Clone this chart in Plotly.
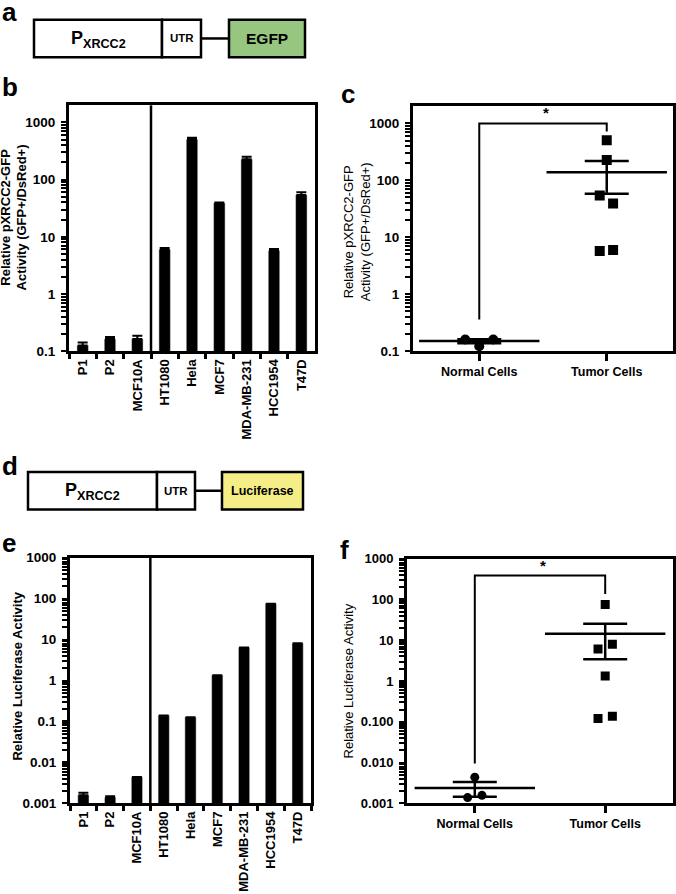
import plotly.graph_objects as go

# panel b / e : per cell line
cell_lines = ["P1", "P2", "MCF10A", "HT1080", "Hela", "MCF7", "MDA-MB-231", "HCC1954", "T47D"]
gfp_activity = [0.125, 0.163, 0.163, 6.0, 505, 39, 227, 5.75, 54]
gfp_sem = [0.016, 0.013, 0.023, 0.4, 33, 1.0, 25, 0.35, 6]
luc_activity = [0.00158, 0.00139, 0.0044, 0.139, 0.127, 1.34, 6.4, 75, 8.1]
luc_sem = [0.00023, 0.0001, 0, 0, 0, 0, 0, 0, 0]

# panel c / f : grouped
groups = ["Normal Cells", "Tumor Cells"]
c_normal = [0.16, 0.122, 0.16]
c_tumor = [505, 227, 54, 39, 5.75, 6.0]
c_mean = [0.15, 138]
c_sem = [0.012, 80]
f_normal = [0.0044, 0.00139, 0.00158]
f_tumor = [75, 6.1, 7.9, 1.32, 0.12, 0.137]
f_mean = [0.0024, 14.4]
f_sem = [0.00095, 11]

W, H = 676, 894
FONT = "Arial, Liberation Sans, sans-serif"

def X(px):
    return px / W

def Y(py):
    return 1 - py / H

fig = go.Figure()

# bars
for vals, sem, ax in [(gfp_activity, gfp_sem, ""), (luc_activity, luc_sem, "3")]:
    fig.add_trace(go.Bar(
        x=cell_lines, y=vals, width=0.42, marker_color="black",
        error_y=dict(type="data", symmetric=False, array=sem, arrayminus=[0] * len(sem),
                     color="black", thickness=2, width=5),
        xaxis="x" + ax, yaxis="y" + ax, showlegend=False))

# dot plots
def dots(normal, tumor, mean, sem, ax, msize, nj, tj):
    fig.add_trace(go.Scatter(
        x=[0 + j for j in nj], y=normal, mode="markers",
        marker=dict(symbol="circle", size=msize, color="black"),
        xaxis="x" + ax, yaxis="y" + ax, showlegend=False))
    fig.add_trace(go.Scatter(
        x=[1 + j for j in tj], y=tumor, mode="markers",
        marker=dict(symbol="square", size=msize, color="black"),
        xaxis="x" + ax, yaxis="y" + ax, showlegend=False))
    fig.add_trace(go.Scatter(
        x=[0, 1], y=mean, mode="markers",
        marker=dict(symbol="line-ew", size=86, color="black",
                    line=dict(width=2.5, color="black")),
        error_y=dict(type="data", array=sem, color="black", thickness=2.5, width=22),
        xaxis="x" + ax, yaxis="y" + ax, showlegend=False))

dots(c_normal, c_tumor, c_mean, c_sem, "2", 10,
     [-0.11, 0, 0.11], [0, 0, -0.055, 0.05, -0.055, 0.05])
dots(f_normal, f_tumor, f_mean, f_sem, "4", 9,
     [0, -0.055, 0.055], [0, -0.055, 0.055, 0, -0.055, 0.055])

# significance brackets
for ys, ax in [([0.36, 1000, 1000, 717], "2"), ([0.0095, 383, 383, 136], "4")]:
    fig.add_trace(go.Scatter(x=[0, 0, 1, 1], y=ys, mode="lines",
                             line=dict(color="black", width=2),
                             xaxis="x" + ax, yaxis="y" + ax, showlegend=False))

tf = dict(family=FONT, size=12.5, color="black", weight="bold")
common_line = dict(showline=True, linewidth=3, linecolor="black", mirror=True,
                   showgrid=False, zeroline=False)

def yax(domain, anchor, rng, vals, texts, size=13.5):
    # decade labels plus unlabeled in-between ticks
    tv, tt = [], []
    for d, t in zip(vals, texts):
        tv.append(d)
        tt.append(t)
        if d != vals[-1]:
            tv += [d * k for k in range(2, 10)]
            tt += [""] * 8
    return dict(domain=domain, anchor=anchor, type="log", range=rng,
                tickmode="array", tickvals=tv, ticktext=tt,
                ticks="outside", ticklen=5, tickwidth=2, tickcolor="black",
                ticklabelstandoff=3,
                tickfont=dict(tf, size=size), **common_line)

bar_x = dict(type="category", range=[-0.5, 8.5], tickson="boundaries",
             ticks="outside", ticklen=5, tickwidth=2.5, tickcolor="black",
             tickangle=-90, tickfont=dict(tf, size=13), **common_line)
dot_x = dict(type="linear", range=[-0.52, 1.52], tickmode="array", tickvals=[0, 1],
             ticktext=groups, ticks="outside", ticklen=7, tickwidth=2.5,
             tickcolor="black", tickfont=dict(tf, size=12.5), **common_line)

v5 = [0.1, 1, 10, 100, 1000]
t5 = ["0.1", "1", "10", "100", "1000"]
v7 = [0.001, 0.01, 0.1, 1, 10, 100, 1000]

fig.update_layout(
    width=W, height=H, margin=dict(l=0, r=0, t=0, b=0),
    paper_bgcolor="white", plot_bgcolor="white", bargap=0.5,
    xaxis=dict(bar_x, domain=[X(69), X(315)], anchor="y"),
    yaxis=yax([Y(350), Y(100)], "x", [-1, 3.3], v5, t5),
    xaxis2=dict(dot_x, domain=[X(413), X(673)], anchor="y2"),
    yaxis2=yax([Y(350), Y(101)], "x2", [-1, 3.3], v5, t5),
    xaxis3=dict(bar_x, domain=[X(70), X(311)], anchor="y3"),
    yaxis3=yax([Y(810), Y(560)], "x3", [-3, 3], v7,
               ["0.001", "0.01", "0.1", "1", "10", "100", "1000"]),
    xaxis4=dict(dot_x, domain=[X(407), X(673)], anchor="y4"),
    yaxis4=yax([Y(810), Y(561)], "x4", [-3, 3], v7,
               ["0.001", "0.010", "0.100", "1", "10", "100", "1000"], 13),
)

shapes = []
# divider between normal and tumor lines
for ax in ["", "3"]:
    shapes.append(dict(type="line", xref="x" + ax, yref="y" + ax + " domain",
                       x0=2.5, x1=2.5, y0=0, y1=1, line=dict(color="black", width=2.5)))

annotations = []

def construct(top, bot, x0, x1, x2, x3, x4, fill, label, lsize):
    mid = (top + bot) / 2
    box = dict(type="rect", xref="paper", yref="paper", line=dict(color="black", width=2.5))
    shapes.append(dict(box, x0=X(x0), x1=X(x1), y0=Y(bot), y1=Y(top), fillcolor="white"))
    shapes.append(dict(box, x0=X(x1), x1=X(x2), y0=Y(bot), y1=Y(top), fillcolor="white"))
    shapes.append(dict(type="line", xref="paper", yref="paper", x0=X(x2), x1=X(x3),
                       y0=Y(mid), y1=Y(mid), line=dict(color="black", width=2.5)))
    shapes.append(dict(box, x0=X(x3), x1=X(x4), y0=Y(bot), y1=Y(top), fillcolor=fill))
    txt = dict(xref="paper", yref="paper", showarrow=False, xanchor="center", yanchor="middle")
    annotations.append(dict(txt, x=X((x0 + x1) / 2), y=Y(mid + 1), text="P<sub>XRCC2</sub>",
                            font=dict(family=FONT, size=18, color="black", weight="bold")))
    annotations.append(dict(txt, x=X((x1 + x2) / 2), y=Y(mid), text="UTR",
                            font=dict(family=FONT, size=11.5, color="black", weight="bold")))
    annotations.append(dict(txt, x=X((x3 + x4) / 2), y=Y(mid), text=label,
                            font=dict(family=FONT, size=lsize, color="black", weight="bold")))

construct(13, 51, 34, 162, 201, 229, 305, "#97c680", "EGFP", 15.5)
construct(473, 511, 28, 157, 195, 222, 303, "#f5ee86", "Luciferase", 12.5)

# panel letters
for letter, x, y in [("a", 0, 22), ("b", 0, 99), ("c", 339, 106),
                     ("d", 0, 484), ("e", 0, 562), ("f", 338, 570)]:
    annotations.append(dict(xref="paper", yref="paper", x=X(x), y=Y(y), text=letter,
                            showarrow=False, xanchor="left", yanchor="bottom",
                            font=dict(family=FONT, size=26, color="black", weight="bold")))

# axis titles
for text, x, y, bold in [
        ("Relative pXRCC2-GFP<br>Activity (GFP+/DsRed+)", 14, 214, "bold"),
        ("Relative pXRCC2-GFP<br>Activity (GFP+/DsRed+)", 357, 229, "normal"),
        ("Relative Luciferase Activity", 18, 681, "bold"),
        ("Relative Luciferase Activity", 348, 686, "normal")]:
    annotations.append(dict(xref="paper", yref="paper", x=X(x), y=Y(y), text=text,
                            textangle=-90, showarrow=False, xanchor="center", yanchor="middle",
                            font=dict(family=FONT, size=13, color="black", weight=bold)))

# significance stars
for ax, yv in [("2", 3), ("4", 2.583)]:
    annotations.append(dict(xref="x" + ax, yref="y" + ax, x=0.52, y=yv, text="*",
                            showarrow=False, yanchor="bottom",
                            font=dict(family=FONT, size=15, color="black", weight="bold")))

fig.update_layout(shapes=shapes, annotations=annotations)
# the page body has a default 8px margin; drop it so the figure sits at the window corner
fig.write_html("out.html", config={"displayModeBar": False},
               post_script="document.body.style.margin='0px';")
